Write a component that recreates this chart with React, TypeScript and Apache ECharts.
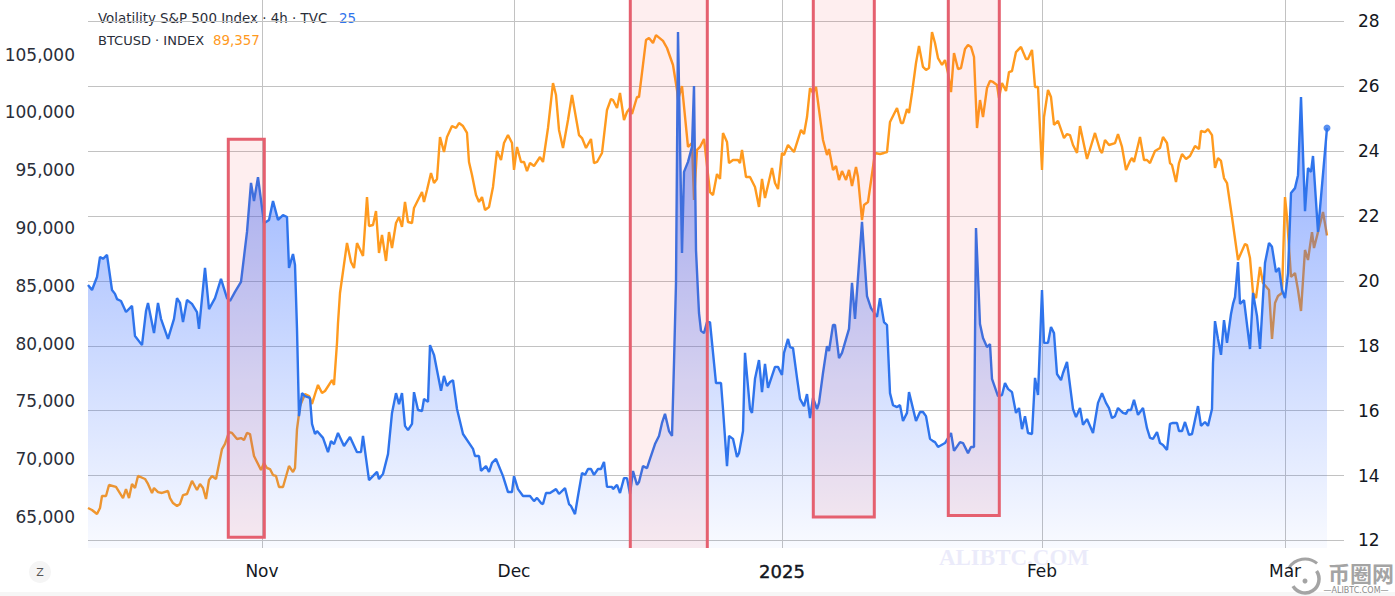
import React, { useEffect, useRef } from "react";
import * as echarts from "echarts";

// x = session step along the (gap-free) trading time scale, y = index value
const vixPoints: number[][] = [
[0,19.87],[4,19.72],[9,20.12],[12,20.74],[15,20.68],[19,20.80],[24,19.72],[27,19.60],[29,19.44],[33,19.38],[38,19.04],[44,19.23],[47,18.30],[54,18.02],[58,19.07],[60,19.32],[66,18.39],[70,19.32],[73,18.83],[80,18.21],[86,18.83],[89,19.47],[92,19.32],[95,18.73],[99,19.41],[104,19.29],[109,19.04],[111,18.52],[117,20.40],[121,19.13],[127,19.47],[133,20.06],[139,19.47],[142,19.38],[147,19.66],[153,19.97],[159,21.51],[163,23.02],[166,22.46],[170,23.20],[176,21.78],[181,21.88],[185,22.46],[190,21.88],[195,22.03],[199,21.97],[201,20.40],[205,20.83],[207,20.49],[209,18.52],[211,15.83],[214,16.54],[217,16.45],[222,16.39],[224,15.59],[227,15.28],[229,15.37],[235,15.16],[240,14.72],[243,15.06],[246,14.97],[250,15.31],[256,14.91],[262,15.19],[269,14.72],[273,14.72],[275,15.22],[281,13.86],[289,14.11],[291,13.89],[295,14.05],[300,14.66],[304,15.93],[308,16.54],[311,16.20],[314,16.54],[317,15.53],[320,15.40],[324,15.59],[326,16.57],[330,16.02],[334,15.99],[336,16.36],[340,16.27],[342,18.02],[346,17.72],[353,16.61],[356,17.07],[359,16.76],[362,16.88],[365,16.94],[369,16.05],[375,15.28],[385,14.82],[387,14.60],[391,14.60],[393,14.14],[398,14.29],[401,14.11],[404,14.39],[408,14.51],[415,13.98],[420,13.49],[424,13.49],[426,13.98],[430,13.58],[435,13.37],[442,13.37],[446,13.21],[449,13.31],[453,13.15],[455,13.12],[458,13.46],[462,13.46],[468,13.58],[471,13.43],[477,13.61],[481,13.12],[483,13.06],[487,12.81],[490,13.37],[494,14.08],[497,14.02],[500,14.20],[503,14.20],[506,14.02],[510,14.20],[513,14.20],[516,14.42],[519,13.65],[524,13.65],[525,13.58],[529,13.71],[532,13.46],[536,13.92],[539,13.92],[542,13.43],[545,14.14],[549,13.71],[551,13.80],[555,14.29],[559,14.23],[562,14.51],[567,14.97],[571,15.22],[574,15.62],[577,15.90],[581,15.37],[584,15.22],[586,17.47],[588,19.94],[590,27.67],[594,20.86],[596,23.36],[600,23.67],[604,24.13],[606,26.01],[608,20.95],[610,19.63],[611,19.01],[613,18.46],[616,18.39],[619,18.73],[622,18.73],[628,16.85],[633,16.85],[635,16.05],[639,14.29],[641,15.22],[645,15.13],[649,14.57],[651,14.69],[655,15.37],[657,17.78],[662,16.05],[664,15.93],[667,16.98],[671,17.56],[674,16.57],[677,17.44],[680,16.70],[687,17.35],[690,17.35],[694,17.10],[696,17.78],[700,18.21],[702,17.96],[705,17.93],[709,17.01],[712,16.36],[716,16.14],[719,16.51],[722,15.77],[725,16.39],[729,16.05],[731,16.24],[735,17.16],[739,17.99],[741,17.84],[745,18.64],[747,18.64],[751,17.62],[754,17.78],[761,18.52],[764,19.94],[767,18.83],[774,21.82],[779,19.53],[783,19.16],[789,18.89],[792,19.47],[796,18.73],[799,18.64],[802,16.54],[805,16.17],[809,16.11],[812,16.17],[815,15.68],[819,15.93],[821,16.57],[828,15.68],[832,15.96],[835,15.96],[838,15.83],[842,15.13],[845,15.06],[847,15.03],[850,14.88],[857,15.00],[863,15.31],[866,14.76],[872,15.03],[875,15.00],[880,14.69],[883,14.88],[886,14.88],[888,21.63],[892,18.67],[895,18.24],[899,17.96],[902,18.05],[904,16.98],[910,16.45],[914,16.48],[917,16.85],[920,16.67],[924,16.57],[928,15.93],[931,16.08],[934,15.43],[937,15.83],[940,15.31],[944,15.28],[947,17.01],[950,16.48],[954,19.72],[956,18.09],[960,18.09],[963,18.58],[966,18.39],[969,17.13],[973,16.94],[975,17.16],[979,17.50],[985,16.05],[988,15.80],[992,16.08],[995,15.56],[999,15.74],[1005,15.31],[1010,16.24],[1014,16.54],[1018,16.24],[1021,16.08],[1024,15.77],[1027,15.83],[1030,16.08],[1035,15.93],[1038,15.90],[1040,16.02],[1043,16.02],[1046,16.33],[1050,15.87],[1055,16.08],[1059,15.46],[1062,15.16],[1065,15.13],[1069,15.34],[1072,15.00],[1075,14.94],[1079,14.79],[1082,15.59],[1085,15.62],[1089,15.62],[1091,15.37],[1094,15.37],[1097,15.65],[1101,15.25],[1104,15.28],[1110,16.14],[1113,15.53],[1117,15.65],[1120,15.53],[1124,16.05],[1125,17.47],[1127,18.76],[1130,18.21],[1133,17.72],[1136,18.79],[1139,18.09],[1143,18.98],[1145,19.29],[1147,19.50],[1150,20.58],[1152,19.29],[1156,19.41],[1162,17.90],[1165,19.63],[1169,18.92],[1172,17.90],[1177,20.55],[1181,21.17],[1184,21.05],[1188,20.27],[1191,20.40],[1194,19.72],[1197,19.47],[1200,20.24],[1203,22.71],[1207,22.86],[1210,23.26],[1213,25.67],[1217,22.15],[1220,23.48],[1223,23.36],[1225,23.85],[1230,21.51],[1231,21.88],[1239,24.71],
];

const btcPoints: number[][] = [
[0,65780],[4,65610],[9,65260],[12,65780],[14,66820],[18,66820],[21,67770],[28,67600],[35,66640],[38,67420],[41,66640],[44,67860],[47,67510],[50,68550],[57,68290],[60,67860],[64,67080],[66,67510],[70,67160],[74,67080],[80,67250],[82,66640],[85,66210],[89,65950],[92,66130],[95,66900],[99,66990],[104,68120],[109,67340],[112,67860],[115,67510],[118,66560],[121,68200],[124,68550],[128,68290],[130,69150],[134,70880],[137,71320],[141,72350],[144,72270],[149,71750],[153,71830],[156,71660],[159,72270],[162,72180],[166,70280],[169,69760],[173,69070],[176,69670],[179,69240],[182,69150],[185,68630],[188,68550],[191,67600],[195,67600],[201,69410],[205,68890],[207,69240],[209,72610],[212,74600],[217,75640],[221,75470],[224,74780],[228,75900],[230,76420],[234,75730],[237,75900],[244,76850],[246,76420],[249,80050],[250,81780],[252,84380],[259,88700],[263,87060],[266,86540],[269,88700],[275,87580],[279,92680],[281,90170],[285,90260],[288,91470],[291,87840],[294,89390],[298,87150],[301,89650],[304,88270],[308,90430],[311,90950],[314,90090],[317,92250],[320,90520],[324,90430],[326,91730],[334,93110],[336,92250],[339,93290],[343,94760],[346,93890],[349,94240],[352,97870],[356,96570],[359,97870],[364,98820],[368,98650],[371,99080],[375,98820],[379,98220],[381,95710],[384,94580],[388,92850],[391,92250],[394,92680],[397,91560],[401,91820],[405,93550],[409,96660],[413,95880],[416,97350],[420,98040],[424,97350],[426,95020],[429,97010],[433,95710],[436,95710],[439,94930],[442,95620],[446,95360],[452,96140],[455,95710],[460,98650],[465,102540],[468,101500],[471,98480],[475,96920],[480,99340],[484,101500],[491,98040],[494,97780],[498,96920],[503,97700],[506,95620],[509,95710],[514,96490],[519,100210],[523,101160],[525,101070],[529,100380],[532,101680],[536,99340],[539,100030],[542,100380],[544,99860],[549,101330],[551,101330],[554,103410],[558,106260],[561,106440],[565,106000],[568,106690],[575,106180],[579,105570],[585,104100],[589,101940],[590,101070],[594,102280],[600,97010],[604,97350],[606,92420],[609,96750],[612,97010],[616,97700],[622,93110],[625,92850],[629,94670],[632,94240],[635,98220],[639,97440],[641,95620],[645,95880],[650,95880],[652,95620],[654,96750],[658,94410],[662,94410],[667,93550],[671,91820],[674,94240],[677,92600],[684,95190],[687,93890],[690,93370],[694,96490],[696,96310],[700,97180],[706,96570],[713,98480],[716,98130],[719,99600],[722,102110],[725,101680],[728,102200],[735,97610],[739,96310],[741,96830],[745,95020],[748,95360],[751,94150],[754,94930],[758,94150],[761,95020],[764,93630],[768,95280],[770,94410],[774,90690],[776,91990],[780,92250],[787,96490],[792,96400],[796,96490],[799,96570],[802,99170],[809,100380],[813,99080],[815,99080],[819,100290],[821,99950],[824,101680],[828,104270],[831,105740],[835,103930],[838,103670],[841,103840],[844,106950],[847,106000],[850,104700],[854,104100],[857,104530],[860,103410],[863,101760],[866,105140],[870,103750],[873,103840],[877,105480],[880,105830],[883,105660],[886,104790],[889,98650],[892,101070],[895,99600],[899,102110],[902,102720],[905,102630],[909,102370],[911,101250],[914,102540],[918,101850],[921,103490],[924,103580],[928,105220],[933,105660],[938,104620],[940,104620],[944,105400],[947,102200],[950,102200],[954,95020],[956,99600],[960,101940],[963,101330],[966,98910],[970,99260],[976,97780],[979,98130],[982,98040],[985,97180],[989,96490],[992,98820],[999,95970],[1007,98220],[1012,96750],[1014,96490],[1017,97610],[1021,97180],[1027,97350],[1030,98130],[1034,97010],[1038,95020],[1042,95800],[1044,96050],[1046,95710],[1052,97870],[1056,95880],[1059,95880],[1062,95620],[1067,96660],[1072,96920],[1075,97870],[1079,97350],[1082,95620],[1084,95450],[1088,93980],[1091,95620],[1094,96400],[1098,95970],[1102,96230],[1107,97090],[1111,96830],[1113,98390],[1117,98300],[1120,98560],[1124,98040],[1127,95190],[1130,96050],[1133,95800],[1136,94320],[1139,93890],[1144,90950],[1150,87230],[1157,88620],[1159,88530],[1162,87400],[1165,84380],[1168,83940],[1172,86630],[1175,85240],[1181,84640],[1184,80400],[1187,83510],[1190,84120],[1194,84380],[1197,92680],[1199,90950],[1203,85760],[1207,86110],[1210,84640],[1213,82820],[1217,88100],[1220,87230],[1224,89650],[1226,88270],[1235,91380],[1239,89357],
];

const xTickSteps = [174, 426, 694, 954, 1197];
const xTickLabels = ["Nov", "Dec", "2025", "Feb", "Mar"];
const btcTicks = [65000, 70000, 75000, 80000, 85000, 90000, 95000, 100000, 105000];
const vixTicks = [12, 14, 16, 18, 20, 22, 24, 26, 28];
// highlighted windows: [start step, end step, VIX-scale top, VIX-scale bottom]
const highlightWindows = [
  [140.3, 176.3, 24.37, 12.1],
  [542.3, 619.3, 30, 10],
  [725.3, 786.3, 30, 12.72],
  [860.3, 911.3, 30, 12.77],
];

const FONT = "'DejaVu Sans', sans-serif";

export default function App() {
  const ref = useRef<HTMLDivElement>(null);
  useEffect(() => {
    const chart = echarts.init(ref.current!, null, { renderer: "svg" });
    const grey = "#a4a4a4";
    chart.setOption({
      animation: false,
      backgroundColor: "#ffffff",
      grid: { left: 88, right: 51, top: 0, bottom: 48 },
      xAxis: {
        type: "value",
        min: 0,
        max: 1256,
        axisLine: { show: false },
        axisTick: { show: false, customValues: xTickSteps },
        splitLine: { show: true, lineStyle: { color: "#c2c2c2", width: 1 } },
        axisLabel: {
          customValues: xTickSteps,
          margin: 14,
          color: "#131722",
          fontFamily: FONT,
          fontSize: 17,
          hideOverlap: false,
          formatter: (v: number) => {
            const t = xTickLabels[xTickSteps.indexOf(v)] ?? "";
            return t === "2025" ? `{y|${t}}` : t;
          },
          rich: { y: { fontFamily: FONT, fontSize: 18, fontWeight: "normal", color: "#131722", textBorderColor: "#131722", textBorderWidth: 0.4 } },
        },
      },
      yAxis: [
        {
          type: "value",
          position: "left",
          min: 62320,
          max: 109722,
          axisLine: { show: false },
          axisTick: { show: false, customValues: btcTicks },
          splitLine: { show: false },
          axisLabel: {
            customValues: btcTicks,
            margin: 13,
            color: "#2a2e39",
            fontFamily: FONT,
            fontSize: 17,
            formatter: (v: number) => v.toLocaleString("en-US"),
          },
        },
        {
          type: "value",
          position: "right",
          min: 11.765,
          max: 28.66,
          axisLine: { show: false },
          axisTick: { show: false, customValues: vixTicks },
          splitLine: { show: true, lineStyle: { color: "#c2c2c2", width: 1 } },
          axisLabel: {
            customValues: vixTicks,
            margin: 14,
            color: "#131722",
            fontFamily: FONT,
            fontSize: 17,
          },
        },
      ],
      series: [
        {
          name: "BTCUSD",
          type: "line",
          yAxisIndex: 0,
          z: 2,
          data: btcPoints,
          symbol: "none",
          lineStyle: { color: "#ff9a1e", width: 2.4 },
        },
        {
          name: "VIX",
          type: "line",
          yAxisIndex: 1,
          z: 3,
          data: vixPoints,
          symbol: "none",
          lineStyle: { color: "#2f74ec", width: 2.4 },
          areaStyle: {
            origin: "start",
            opacity: 1,
            color: new echarts.graphic.LinearGradient(
              0, 0, 0, 548,
              [
                { offset: 0, color: "rgba(41,98,255,0.62)" },
                { offset: 1, color: "rgba(41,98,255,0.03)" },
              ],
              true
            ),
          },
        },
        {
          name: "VIX last",
          type: "scatter",
          yAxisIndex: 1,
          z: 4,
          symbolSize: 7,
          itemStyle: { color: "#2f74ec" },
          data: [vixPoints[vixPoints.length - 1]],
        },
        {
          name: "windows",
          type: "custom",
          yAxisIndex: 1,
          z: 5,
          clip: true,
          silent: true,
          encode: { x: [0, 1], y: [2, 3] },
          data: highlightWindows,
          renderItem: (_p: unknown, api: any) => {
            const a = api.coord([api.value(0), api.value(2)]);
            const b = api.coord([api.value(1), api.value(3)]);
            return {
              type: "rect",
              shape: { x: a[0], y: a[1], width: b[0] - a[0], height: b[1] - a[1] },
              style: { fill: "rgba(240,70,80,0.09)", stroke: "#e5606f", lineWidth: 3 },
            };
          },
        },
      ],
      graphic: [
        {
          type: "group",
          z: 100,
          children: [
            { type: "text", x: 98, y: 18, style: { text: "Volatility S&P 500 Index · 4h · TVC", fontFamily: FONT, fontSize: 13.4, fill: "#2a2e39", verticalAlign: "middle" } },
            { type: "text", x: 339, y: 18, style: { text: "25", fontFamily: FONT, fontSize: 13.4, fill: "#2f74ec", verticalAlign: "middle" } },
            { type: "text", x: 98, y: 40, style: { text: "BTCUSD · INDEX", fontFamily: FONT, fontSize: 13, fill: "#2a2e39", verticalAlign: "middle" } },
            { type: "text", x: 213, y: 40, style: { text: "89,357", fontFamily: FONT, fontSize: 13.4, fill: "#ff9a1e", verticalAlign: "middle" } },
            { type: "circle", shape: { cx: 40, cy: 572, r: 11 }, style: { fill: "#f5f5f5" } },
            { type: "text", x: 40, y: 572, style: { text: "Z", fontFamily: FONT, fontSize: 11, fill: "#555", align: "center", verticalAlign: "middle" } },
            { type: "rect", shape: { x: 0, y: 592, width: 1395, height: 4 }, style: { fill: "#f6f6f6" } },
            { type: "text", x: 1014, y: 557, style: { text: "ALIBTC.COM", fontFamily: "'Liberation Serif', serif", fontSize: 23, fontWeight: "bold", fill: "rgba(232,232,250,0.85)", stroke: "#ffffff", lineWidth: 1, align: "center", verticalAlign: "middle" } },
            { type: "arc", shape: { cx: 1305, cy: 579, r: 14, startAngle: -0.6, endAngle: 2.6 }, style: { stroke: grey, lineWidth: 3.5, fill: "none" } },
            { type: "arc", shape: { cx: 1305, cy: 578, r: 19, startAngle: 3.7, endAngle: 5.4 }, style: { stroke: grey, lineWidth: 3, fill: "none" } },
            { type: "circle", shape: { cx: 1305, cy: 581, r: 2.5 }, style: { fill: grey } },
            { type: "text", x: 1361, y: 572, style: { text: "币圈网", fontFamily: "'Noto Sans CJK SC'", fontSize: 22, fontWeight: "bold", fill: grey, align: "center", verticalAlign: "middle" } },
            { type: "text", x: 1356, y: 590, style: { text: "—ALIBTC.COM—", fontFamily: FONT, fontSize: 8, fill: "#8a8a8a", align: "center", verticalAlign: "middle" } },
          ],
        },
      ],
    });
    return () => chart.dispose();
  }, []);
  return <div ref={ref} style={{ position: "absolute", left: 0, top: 0, width: 1395, height: 596 }} />;
}
